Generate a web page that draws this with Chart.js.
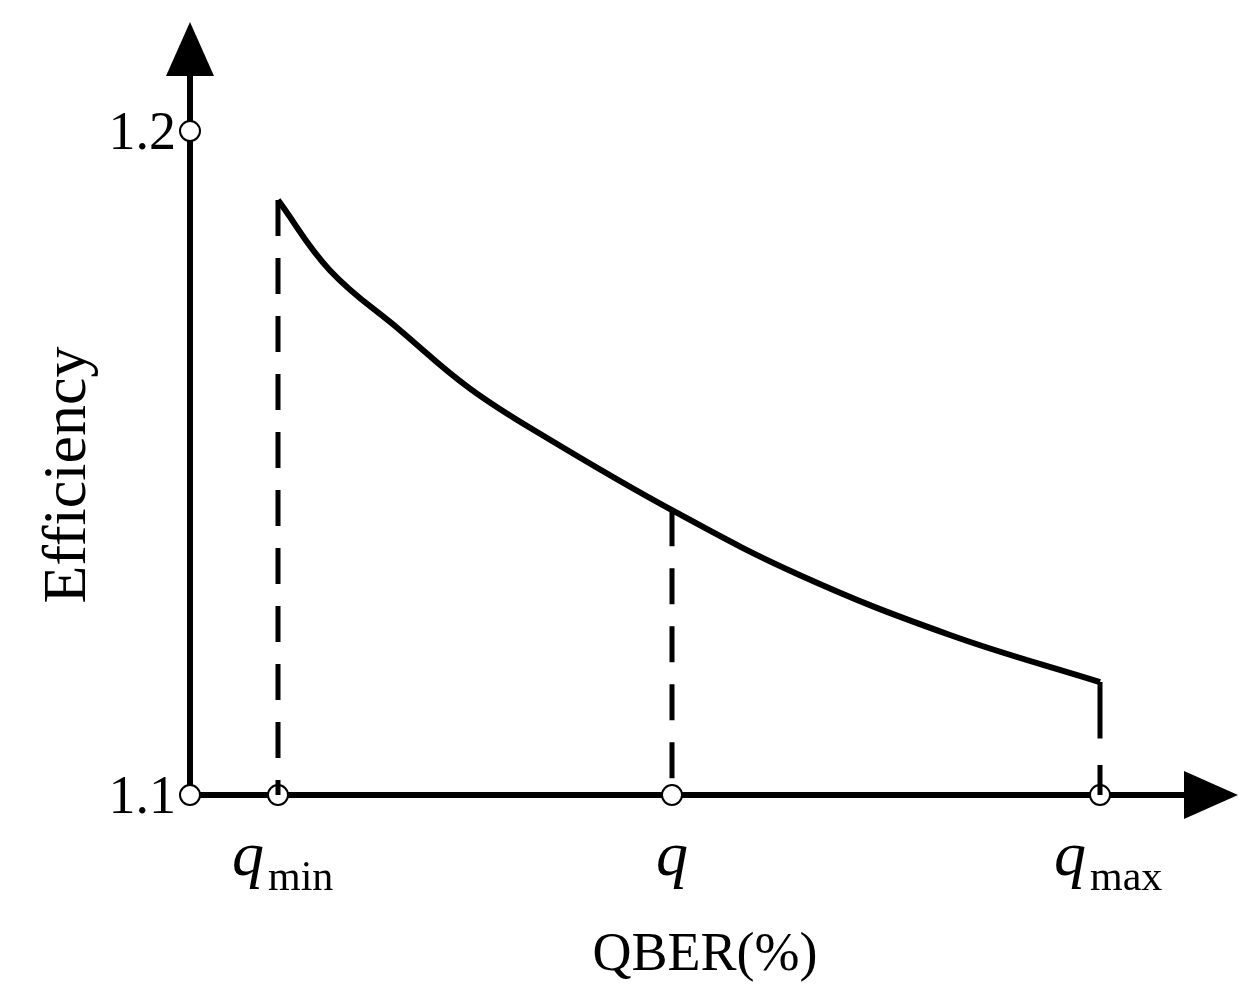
<!DOCTYPE html>
<html>
<head>
<meta charset="utf-8">
<script src="https://cdn.jsdelivr.net/npm/chart.js@4"></script>
<style>
  body { margin: 0; background: #fff; }
  canvas { display: block; }
</style>
</head>
<body>
<canvas id="c" width="1255" height="1006" style="width:1255px;height:1006px"></canvas>
<script>
// QBER positions (arbitrary 0..100 axis units) and efficiency
const curveQber = [8.8, 14, 21, 28, 36, 48.2, 61, 76, 91];
const curveEff = [1.1896, 1.1790, 1.1700, 1.1612, 1.1535, 1.1429, 1.1331, 1.1241, 1.1170];
const markQber = { qmin: 8.8, q: 48.2, qmax: 91 };
const yTicks = [1.1, 1.2];

const pts = (xs, ys) => xs.map((x, i) => ({ x: x, y: ys[i] }));
const black = '#000';
const serif = '"Liberation Serif", "DejaVu Serif", serif';

const axesPlugin = {
  id: 'axes',
  beforeDatasetsDraw(chart) {
    const ctx = chart.ctx, xs = chart.scales.x, ys = chart.scales.y;
    const x0 = xs.getPixelForValue(0), y0 = ys.getPixelForValue(1.1);
    ctx.save();
    ctx.strokeStyle = black; ctx.fillStyle = black; ctx.lineWidth = 6;
    ctx.beginPath();
    ctx.moveTo(x0, y0); ctx.lineTo(x0, 70);
    ctx.moveTo(x0, y0); ctx.lineTo(1190, y0);
    ctx.stroke();
    // arrow heads
    ctx.beginPath();
    ctx.moveTo(x0, 22); ctx.lineTo(x0 - 24, 76); ctx.lineTo(x0 + 24, 76); ctx.closePath(); ctx.fill();
    ctx.beginPath();
    ctx.moveTo(1238, y0); ctx.lineTo(1184, y0 - 24); ctx.lineTo(1184, y0 + 24); ctx.closePath(); ctx.fill();
    ctx.restore();
  },
  afterDraw(chart) {
    const ctx = chart.ctx, xs = chart.scales.x, ys = chart.scales.y;
    ctx.save();
    ctx.fillStyle = black;
    ctx.font = '54px ' + serif;
    ctx.textAlign = 'right'; ctx.textBaseline = 'middle';
    yTicks.forEach(v => ctx.fillText(v.toFixed(1), 176, ys.getPixelForValue(v) + 4));
    // q labels
    const qLabel = (val, sub) => {
      const px = xs.getPixelForValue(val);
      ctx.textBaseline = 'alphabetic';
      ctx.font = 'italic 64px ' + serif;
      const qw = ctx.measureText('q').width;
      const start = sub ? px - qw - 14 : px - qw / 2;
      ctx.textAlign = 'left';
      ctx.fillText('q', start, 875);
      if (sub) {
        ctx.font = '42px ' + serif;
        ctx.fillText(sub, start + qw + 4, 890);
      }
    };
    qLabel(markQber.qmin, 'min');
    qLabel(markQber.q, '');
    qLabel(markQber.qmax, 'max');
    ctx.font = '54px ' + serif;
    ctx.textAlign = 'center';
    ctx.fillText('QBER(%)', 705, 970);
    ctx.translate(85, 475);
    ctx.rotate(-Math.PI / 2);
    ctx.font = '62px ' + serif;
    ctx.fillText('Efficiency', 0, 0);
    ctx.restore();
  }
};

const dashed = (xv, y1, y2) => ({
  data: [{ x: xv, y: y1 }, { x: xv, y: y2 }],
  borderColor: black, borderWidth: 5, borderDash: [36, 22], pointRadius: 0, showLine: true
});

new Chart(document.getElementById('c'), {
  type: 'scatter',
  data: {
    datasets: [
      { data: pts(curveQber, curveEff), borderColor: black, borderWidth: 6, pointRadius: 0, showLine: true, tension: 0.4 },
      dashed(markQber.qmin, curveEff[0], 1.1),
      dashed(markQber.q, curveEff[5], 1.1),
      { data: [{ x: markQber.qmax, y: curveEff[8] }, { x: markQber.qmax, y: 1.1085 }],
        borderColor: black, borderWidth: 5, pointRadius: 0, showLine: true },
      { data: [{ x: markQber.qmax, y: 1.1045 }, { x: markQber.qmax, y: 1.1 }],
        borderColor: black, borderWidth: 5, pointRadius: 0, showLine: true },
      { data: [{ x: 0, y: 1.2 }, { x: 0, y: 1.1 }, { x: markQber.qmin, y: 1.1 }, { x: markQber.q, y: 1.1 }, { x: markQber.qmax, y: 1.1 }],
        showLine: false, pointRadius: 10, pointBackgroundColor: '#fff', pointBorderColor: black, pointBorderWidth: 2 }
    ]
  },
  options: {
    responsive: false, animation: false,
    layout: { padding: { left: 190, right: 65, top: 131, bottom: 211 } },
    plugins: { legend: { display: false }, tooltip: { enabled: false } },
    scales: {
      x: { type: 'linear', min: 0, max: 100, display: false },
      y: { type: 'linear', min: 1.1, max: 1.2, display: false }
    },
    clip: false
  },
  plugins: [axesPlugin]
});
</script>
</body>
</html>
